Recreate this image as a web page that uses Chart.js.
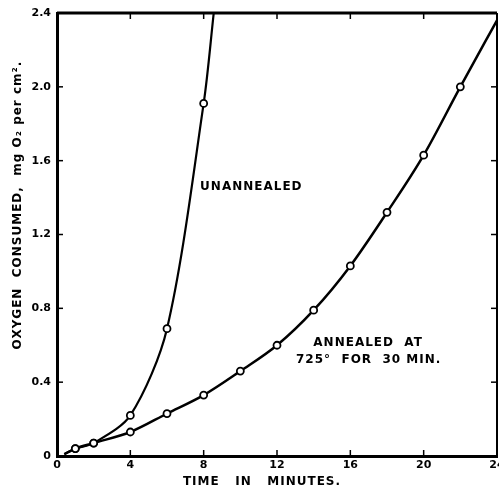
<!DOCTYPE html>
<html>
<head>
<meta charset="utf-8">
<script src="https://cdn.jsdelivr.net/npm/chart.js@4/dist/chart.umd.min.js"></script>
<style>
html,body{margin:0;padding:0;background:#fff;overflow:hidden;}
canvas{display:block;}
</style>
</head>
<body>
<canvas id="c" width="499" height="491"></canvas>
<script>
// ---- data ----
const unannealedTime = [0.4, 1, 2, 4, 6, 8, 8.55];
const unannealedO2   = [0.01, 0.04, 0.07, 0.22, 0.69, 1.91, 2.4];
const annealedTime = [0.4, 1, 2, 4, 6, 8, 10, 12, 14, 16, 18, 20, 22, 24];
const annealedO2   = [0.01, 0.04, 0.07, 0.13, 0.23, 0.33, 0.46, 0.60, 0.79, 1.03, 1.32, 1.63, 2.00, 2.36];
const xTicks = [0, 4, 8, 12, 16, 20, 24];
const yTicks = [0, 0.4, 0.8, 1.2, 1.6, 2.0, 2.4];
const xTitle = 'TIME   IN   MINUTES.';
const yTitle = 'OXYGEN  CONSUMED,  mg O\u2082 per cm\u00B2.';
const notes = [
  {x: 10.6, y: 1.46, text: 'UNANNEALED'},
  {x: 16.97, y: 0.612, text: 'ANNEALED  AT'},
  {x: 17.0, y: 0.52, text: '725\u00B0  FOR  30 MIN.'}
];

const FONT = 'bold 12px "DejaVu Sans", sans-serif';
const TICKFONT = {family: '"DejaVu Sans", sans-serif', size: 11, weight: 'bold'};

function toXY(xs, ys){ return xs.map((x,i)=>({x:x, y:ys[i]})); }
function radiusFn(n){ return ctx => (ctx.dataIndex===0 || ctx.dataIndex===n-1) ? 0 : 3.5; }

const framePlugin = {
  id: 'frame',
  afterDraw(chart){
    const {ctx, chartArea:a, scales} = chart;
    const xs = scales.x, ys = scales.y;
    ctx.save();
    ctx.strokeStyle = '#000';
    ctx.lineWidth = 3;
    ctx.beginPath(); ctx.moveTo(a.left, a.top); ctx.lineTo(a.right, a.top); ctx.stroke();
    ctx.lineWidth = 2;
    ctx.beginPath(); ctx.moveTo(a.right, a.top); ctx.lineTo(a.right, a.bottom); ctx.stroke();
    ctx.lineWidth = 1.5;
    xTicks.slice(1, -1).forEach(v => {
      const px = xs.getPixelForValue(v);
      ctx.beginPath(); ctx.moveTo(px, a.bottom); ctx.lineTo(px, a.bottom-6); ctx.stroke();
      ctx.beginPath(); ctx.moveTo(px, a.top); ctx.lineTo(px, a.top+6); ctx.stroke();
    });
    yTicks.slice(1, -1).forEach(v => {
      const py = ys.getPixelForValue(v);
      ctx.beginPath(); ctx.moveTo(a.left, py); ctx.lineTo(a.left+6, py); ctx.stroke();
      ctx.beginPath(); ctx.moveTo(a.right, py); ctx.lineTo(a.right-6, py); ctx.stroke();
    });
    ctx.fillStyle = '#000';
    ctx.font = FONT;
    try { ctx.letterSpacing = '1px'; } catch(e) {}
    ctx.textAlign = 'center';
    ctx.textBaseline = 'middle';
    notes.forEach(n => {
      ctx.fillText(n.text, xs.getPixelForValue(n.x), ys.getPixelForValue(n.y));
    });
    ctx.fillText(xTitle, 262, 482);
    ctx.save();
    ctx.translate(18, 205);
    ctx.rotate(-Math.PI/2);
    ctx.fillText(yTitle, 0, 0);
    ctx.restore();
    ctx.restore();
  }
};

new Chart(document.getElementById('c'), {
  type: 'line',
  data: {
    datasets: [
      {
        label: 'Unannealed',
        data: toXY(unannealedTime, unannealedO2),
        borderColor: '#000', borderWidth: 2.2,
        pointRadius: radiusFn(unannealedTime.length),
        pointBackgroundColor: '#fff', pointBorderColor: '#000', pointBorderWidth: 1.8,
        tension: 0.3, fill: false
      },
      {
        label: 'Annealed at 725° for 30 min.',
        data: toXY(annealedTime, annealedO2),
        borderColor: '#000', borderWidth: 2.5,
        pointRadius: radiusFn(annealedTime.length),
        pointBackgroundColor: '#fff', pointBorderColor: '#000', pointBorderWidth: 1.8,
        cubicInterpolationMode: 'monotone', fill: false
      }
    ]
  },
  options: {
    responsive: false,
    animation: false,
    layout: {padding: {top: 13, right: 2, left: 0, bottom: 0}},
    plugins: {legend: {display: false}, tooltip: {enabled: false}},
    scales: {
      x: {
        type: 'linear', min: 0, max: 24,
        afterBuildTicks: s => { s.ticks = xTicks.map(v => ({value: v})); },
        ticks: {color: '#000', font: TICKFONT, padding: 3, maxRotation: 0, autoSkip: false, callback: v => String(v)},
        grid: {drawOnChartArea: false, drawTicks: false},
        border: {color: '#000', width: 3},
        afterFit: s => { s.height = 35; s.paddingLeft = 0; s.paddingRight = 0; }
      },
      y: {
        type: 'linear', min: 0, max: 2.4,
        afterBuildTicks: s => { s.ticks = yTicks.map(v => ({value: v})); },
        ticks: {color: '#000', font: TICKFONT, padding: 6, autoSkip: false, callback: v => v === 0 ? '0' : v.toFixed(1)},
        grid: {drawOnChartArea: false, drawTicks: false},
        border: {color: '#000', width: 3},
        afterFit: s => { s.width = 57; s.paddingTop = 0; s.paddingBottom = 0; }
      }
    }
  },
  plugins: [framePlugin]
});
</script>
</body>
</html>
